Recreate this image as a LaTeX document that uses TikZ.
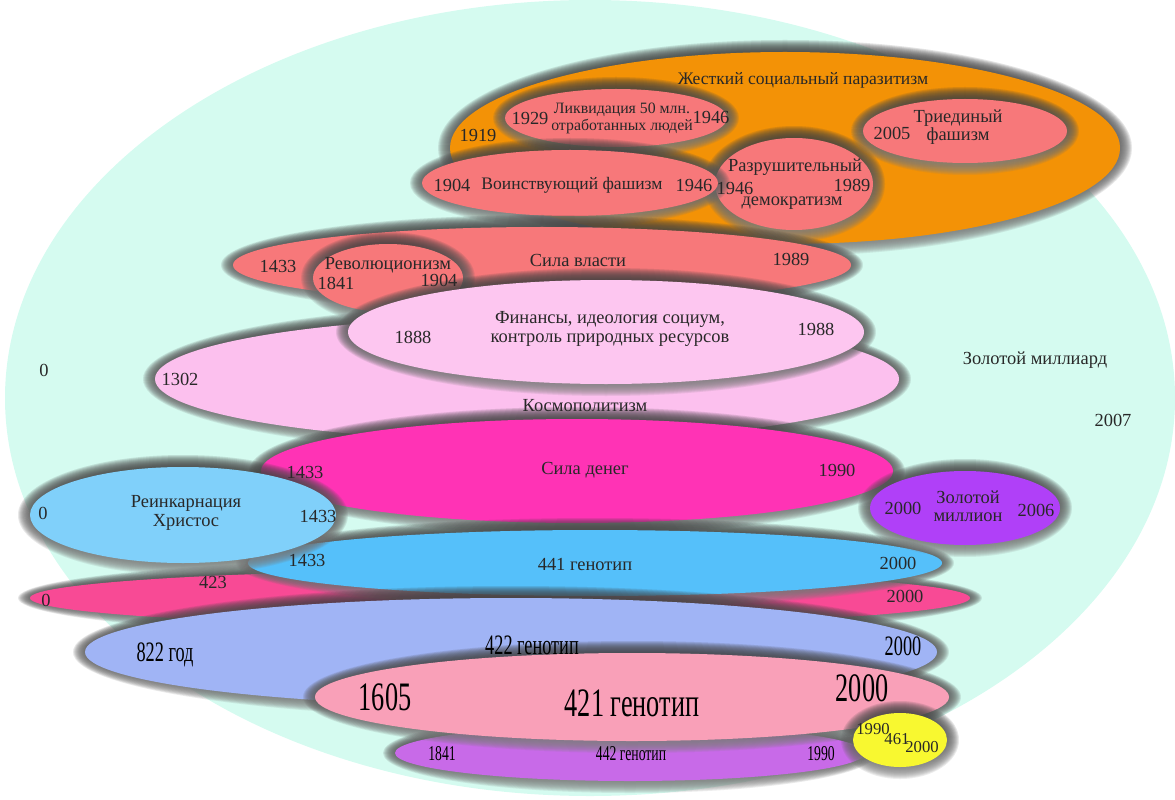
\documentclass[tikz,border=0pt]{standalone}
\usepackage{fontspec}
\setmainfont{Liberation Serif}
\newfontfamily\narrowserif[FakeStretch=0.65]{Liberation Serif}
\definecolor{mint}{RGB}{213,251,240}
\definecolor{orng}{RGB}{243,146,6}
\definecolor{salm}{RGB}{247,120,122}
\definecolor{kosm}{RGB}{252,192,238}
\definecolor{finp}{RGB}{253,198,240}
\definecolor{mgnt}{RGB}{255,51,181}
\definecolor{hotp}{RGB}{248,74,149}
\definecolor{sky}{RGB}{85,192,250}
\definecolor{lblu}{RGB}{128,208,250}
\definecolor{purp}{RGB}{176,64,248}
\definecolor{peri}{RGB}{160,180,245}
\definecolor{lila}{RGB}{200,106,232}
\definecolor{rose}{RGB}{249,160,184}
\definecolor{yell}{RGB}{248,248,48}
\definecolor{ink}{RGB}{40,40,40}
\definecolor{shade}{RGB}{20,45,42}
\begin{document}
\begin{tikzpicture}[x=.02cm,y=-.02cm,
 yr/.style={text=ink,inner sep=0pt,font=\fontsize{10.5}{10.4}\selectfont},
 ttl/.style={yr,align=center},
 nar/.style={text=black,inner sep=0pt,font=\narrowserif\fontsize{#1}{#1}\selectfont},
 ]
 \useasboundingbox (0,0) rectangle (1175,800);
 \fill[mint] (590,398) ellipse (585 and 398);
 
 % Ellipsen, von unten nach oben
 \foreach \x/\y/\a/\b/\col in {
  785/148/335/96/orng, 616/118/111/29/salm, 794/184/79/46/salm,
  570/183/148/33/salm, 965/131/102/32/salm,
  527/379/372/62/kosm, 542/265/309/38/salm, 388/278/75/34/salm,
  606/332/258/52/finp, 577/471/316/52/mgnt,
  500/598/470/28/hotp, 595/563/347/33/sky, 183/515/153/48/lblu,
  965/508/95/37/purp, 511/652/426/54/peri, 630/753/235/28/lila,
  632/697/317/44/rose, 900/740/47/27/yell} {
  \foreach \k in {12,...,1}
   \fill[shade,opacity=.08] (\x,\y) ellipse ({\a+\k} and {\b+\k});
  \fill[\col] (\x,\y) ellipse ({\a} and {\b});
 }
 
 % Jahreszahlen
 \foreach \nm/\x/\y/\t in {
  a/478/135/1919, b/530/118/1929, c/711/117/1946, d/452/185/1904,
  e/694/185/1946, f/735/188/1946, g/852/185/1989, h/892/133/2005,
  i/278/266/1433, j/336/283/1841, k/439/280/1904, l/791/259/1989,
  m/413/337/1888, n/816/329/1988, o/180/379/1302,
  p/305/472/1433, q/837/470/1990, r/43/513/0, s/318/516/1433,
  t/903/508/2000, u/1036/510/2006,
  v/307/560/1433, w/898/563/2000, x/213/582/423, y/46/600/0, z/905/596/2000,
  out0/44/370/0, out2007/1113/420/2007}
  \node[yr] (y\nm) at (\x,\y) {\t};
 
 \node[yr,font=\fontsize{10}{10}\selectfont] (parasit) at (803,80) {Жесткий социальный паразитизм};
 \node[ttl,font=\fontsize{9}{9.6}\selectfont] (liquid) at (622,118) {Ликвидация 50 млн.\\отработанных людей};
 \node[yr,font=\fontsize{10}{10}\selectfont] (militant) at (572,185) {Воинствующий фашизм};
 \node[yr] (destr1) at (795,167) {Разрушительный};
 \node[yr] (destr2) at (792,203) {демократизм};
 \node[ttl] (triune) at (958,127) {Триединый\\фашизм};
 \node[yr] (revol) at (388,265) {Революционизм};
 \node[yr] (power) at (578,260) {Сила власти};
 \node[ttl] (finance) at (610,329) {Финансы, идеология социум,\\контроль природных ресурсов};
 \node[yr] (cosmo) at (585,406) {Космополитизм};
 \node[yr] (money) at (585,470) {Сила денег};
 \node[ttl] (reinc) at (186,513) {Реинкарнация\\Христос};
 \node[ttl] (gmill) at (968,506) {Золотой\\миллион};
 \node[yr] (g441) at (585,564) {441 генотип};
 \node[yr] (gbill) at (1035,360) {Золотой миллиард};
 
 \node[nar=16] (y822) at (165,655) {822 год};
 \node[nar=16] (g422) at (532,645) {422 генотип};
 \node[nar=16] (e422) at (903,646) {2000};
 \node[nar=23] (s421) at (385,697) {1605};
 \node[nar=23] (g421) at (632,703) {421 генотип};
 \node[nar=23] (e421) at (862,688) {2000};
 \node[nar=12] (s442) at (442,754) {1841};
 \node[nar=12] (g442) at (631,754) {442 генотип};
 \node[nar=12] (e442) at (821,754) {1990};
 
 \node[yr,font=\fontsize{9.5}{9.5}\selectfont] (a461) at (873,729) {1990};
 \node[yr,font=\fontsize{9.5}{9.5}\selectfont] (b461) at (897,739) {461};
 \node[yr,font=\fontsize{9.5}{9.5}\selectfont] (c461) at (922,747) {2000};
\end{tikzpicture}
\end{document}
